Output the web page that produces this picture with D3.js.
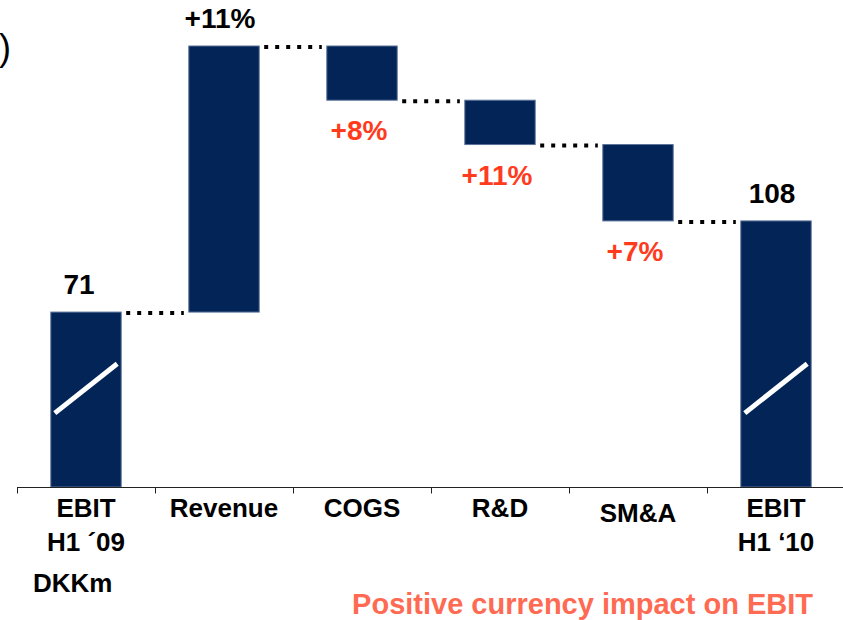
<!DOCTYPE html>
<html lang="en">
    <head>
        <style>
            body { margin: 0; background: #fff; }
            text { font-family: "Liberation Sans", Arial, sans-serif; font-weight: bold; }
            .bar { fill: #022456; stroke: #5b7399; stroke-width: 1px; }
            .link { fill: none; stroke: #000; stroke-width: 4px; stroke-dasharray: 4 7; }
            .brk { stroke: #fff; stroke-width: 5px; }
        </style>
        <script src="https://d3js.org/d3.v7.min.js"></script>
        <title>EBIT bridge</title>
    </head>
    <body>
        <div id="chart"></div>
        <script>
            // data
            var categories = ["EBIT|H1 \u00B409", "Revenue", "COGS", "R&D", "SM&A", "EBIT|H1 \u201810"];
            var changes = [71, 108, -22, -18, -31, null];   // null = total bar
            var pctLabels = ["71", "+11%", "+8%", "+11%", "+7%", "108"];
            var labelKind = ["total", "up", "down", "down", "down", "total"];
            var breakAt = [30, 50];   // values where the axis-break slash sits

            var width = 843, height = 620;

            var svg = d3.select("#chart")
                .append("svg")
                    .attr("width", width)
                    .attr("height", height);

            // running totals for the waterfall
            var run = 0;
            var bars = categories.map(function(c, i) {
                var start, end;
                if (changes[i] === null) { start = 0; end = run; }
                else if (i === 0) { start = 0; end = changes[i]; run = end; }
                else { start = run; end = run + changes[i]; run = end; }
                return {cat: c, start: start, end: end, label: pctLabels[i], kind: labelKind[i]};
            });

            var x = d3.scaleBand()
                .domain(categories)
                .range([17, 845])
                .paddingInner(0.49)
                .paddingOuter(0.245);

            var y = d3.scaleLinear()
                .domain([0, 179])
                .range([487, 46]);

            // bars
            svg.selectAll(".bar")
                .data(bars)
                .enter().append("rect")
                    .attr("class", "bar")
                    .attr("x", function(d) { return x(d.cat); })
                    .attr("y", function(d) { return y(Math.max(d.start, d.end)); })
                    .attr("width", x.bandwidth())
                    .attr("height", function(d) { return Math.abs(y(d.start) - y(d.end)); });

            // axis break slashes on total bars
            svg.selectAll(".brk")
                .data(bars.filter(function(d) { return d.kind == "total"; }))
                .enter().append("line")
                    .attr("class", "brk")
                    .attr("x1", function(d) { return x(d.cat) + 4; })
                    .attr("x2", function(d) { return x(d.cat) + x.bandwidth() - 4; })
                    .attr("y1", y(breakAt[0]))
                    .attr("y2", y(breakAt[1]));

            // dotted connectors
            var links = d3.pairs(bars);
            svg.selectAll(".link")
                .data(links)
                .enter().append("line")
                    .attr("class", "link")
                    .attr("x1", function(d) { return x(d[0].cat) + x.bandwidth() + 5; })
                    .attr("x2", function(d) { return x(d[1].cat) - 5; })
                    .attr("y1", function(d) { return y(d[0].end) + 1; })
                    .attr("y2", function(d) { return y(d[0].end) + 1; });

            // value labels
            svg.selectAll(".val")
                .data(bars)
                .enter().append("text")
                    .attr("class", "val")
                    .attr("text-anchor", "middle")
                    .attr("font-size", "28px")
                    .attr("fill", function(d) { return d.kind == "down" ? "#ff3b1d" : "#000"; })
                    .attr("x", function(d) { return x(d.cat) + x.bandwidth() / 2 + (d.kind == "down" ? -3 : (d.label == "71" ? -7 : -4)); })
                    .attr("y", function(d) {
                        if (d.kind == "down") return y(d.end) + 40;
                        return y(Math.max(d.start, d.end)) - 18;
                    })
                    .text(function(d) { return d.label; });

            // x axis with ticks between categories
            var axisY = 487.5;
            svg.append("line")
                .attr("x1", 17).attr("x2", width)
                .attr("y1", axisY).attr("y2", axisY)
                .attr("stroke", "#222").attr("stroke-width", 1);

            svg.selectAll(".tick")
                .data(categories)
                .enter().append("line")
                    .attr("class", "tick")
                    .attr("x1", function(d) { return x(d) - x.step() * x.paddingOuter() + 0.5; })
                    .attr("x2", function(d) { return x(d) - x.step() * x.paddingOuter() + 0.5; })
                    .attr("y1", axisY).attr("y2", axisY + 6)
                    .attr("stroke", "#222");

            var catText = svg.selectAll(".cat")
                .data(categories)
                .enter().append("text")
                    .attr("class", "cat")
                    .attr("text-anchor", "middle")
                    .attr("font-size", "26px")
                    .attr("fill", "#000")
                    .attr("y", function(d) { return d == "SM&A" ? 522 : 517; });

            catText.selectAll("tspan")
                .data(function(d) {
                    return d.split("|").map(function(s, j) { return {s: s, j: j, cx: x(d) + x.bandwidth() / 2}; });
                })
                .enter().append("tspan")
                    .attr("x", function(t) { return t.cx; })
                    .attr("dy", function(t) { return t.j ? 34 : 0; })
                    .text(function(t) { return t.s; });

            // notes
            svg.append("text")
                .attr("x", 33).attr("y", 592)
                .attr("font-size", "26px")
                .text("DKKm");

            svg.append("text")
                .attr("x", 813).attr("y", 614)
                .attr("text-anchor", "end")
                .attr("font-size", "29px")
                .attr("fill", "#ff6a52")
                .text("Positive currency impact on EBIT");

            // leftover of a cut-off title
            svg.append("text")
                .attr("x", -1).attr("y", 60)
                .attr("font-size", "36px")
                .style("font-weight", "normal")
                .text(")");
        </script>
    </body>
</html>
